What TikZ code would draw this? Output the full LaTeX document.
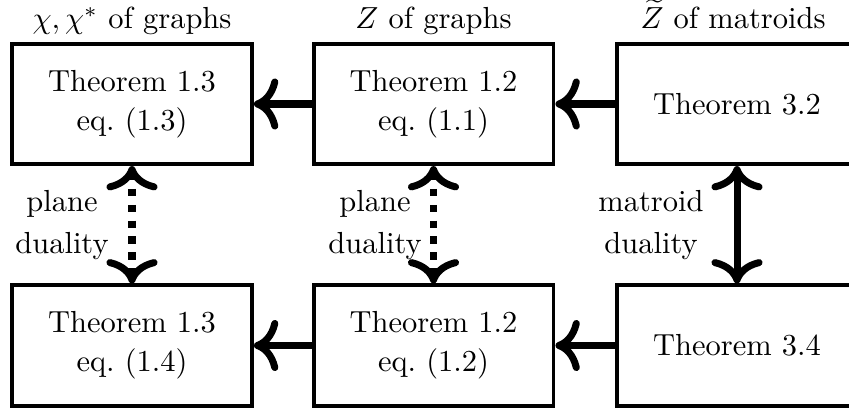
\documentclass[tikz,border=0pt]{standalone}
\usepackage{amsmath}
\usetikzlibrary{arrows.meta}
\begin{document}
\begin{tikzpicture}[x=0.328pt,y=-0.328pt,
  box/.style={draw,line width=1.3pt,minimum width=78.7pt,minimum height=39.4pt,inner sep=0pt,align=center,font=\fontsize{10pt}{12.8pt}\selectfont},
  arr/.style={line width=2.3pt,-{To[scale=1.2]}},
  darr/.style={line width=2.3pt,{To[scale=1.2]}-{To[scale=1.2]}},
  dotline/.style={dash pattern=on 2.4pt off 2.8pt},
  lbl/.style={align=center,inner sep=0pt,font=\fontsize{10pt}{10pt}\selectfont},
  head/.style={inner sep=0pt,font=\fontsize{10pt}{12pt}\selectfont}]
\clip (0,0) rectangle (849,409);
\node[box] (tl) at (132,104) {Theorem 1.3\\eq.~(1.3)};
\node[box] (tm) at (433.5,104) {Theorem 1.2\\eq.~(1.1)};
\node[box] (tr) at (737,104) {Theorem 3.2};
\node[box] (bl) at (132,345.5) {Theorem 1.3\\eq.~(1.4)};
\node[box] (bm) at (433.5,345.5) {Theorem 1.2\\eq.~(1.2)};
\node[box] (br) at (737,345.5) {Theorem 3.4};
\node[head,anchor=base] (h1) at (132,29) {$\chi,\chi^*$ of graphs};
\node[head,anchor=base] (h2) at (433.5,29) {$Z$ of graphs};
\node[head,anchor=base] (h3) at (733,29) {$\widetilde{Z}$ of matroids};
\draw[arr] (tr.west) -- (tm.east);
\draw[arr] (tm.west) -- (tl.east);
\draw[arr] (br.west) -- (bm.east);
\draw[arr] (bm.west) -- (bl.east);
\draw[darr,dotline] (tl.south) -- (bl.north);
\draw[darr,dotline] (tm.south) -- (bm.north);
\draw[darr] (tr.south) -- (br.north);
\node[lbl] (l1) at (62,225) {plane\\[4pt]duality};
\node[lbl] (l2) at (375,225) {plane\\[4pt]duality};
\node[lbl] (l3) at (651,225) {matroid\\[4pt]duality};
\end{tikzpicture}
\end{document}
